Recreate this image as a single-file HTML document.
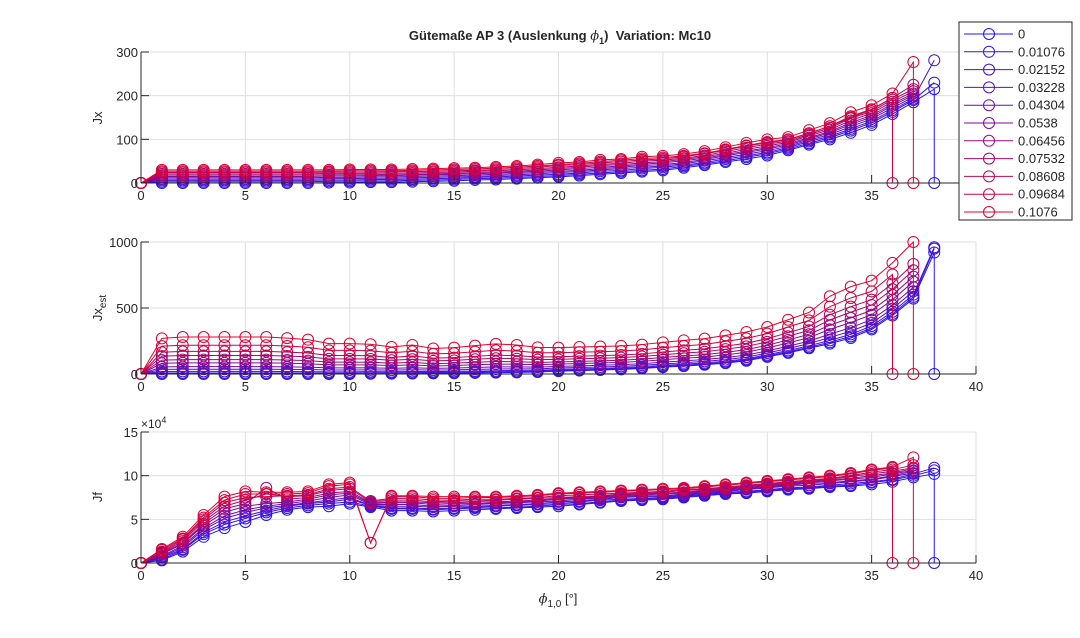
<!DOCTYPE html>
<html><head><meta charset="utf-8"><style>
body{margin:0;background:#fff;}
svg text{font-family:"Liberation Sans",sans-serif;fill:#262626;}
</style></head><body>
<svg id="chart" width="1080" height="633" viewBox="0 0 1080 633" xmlns="http://www.w3.org/2000/svg">
<rect width="1080" height="633" fill="#fff"/>
<g id="plots"></g>
<text x="560" y="40" text-anchor="middle" font-size="13" font-weight="bold">Gütemaße AP 3 (Auslenkung <tspan font-style="italic" font-weight="normal" font-family="DejaVu Serif">ϕ</tspan><tspan font-size="9" dy="4">1</tspan><tspan dy="-4">)&#160;&#160;Variation: Mc10</tspan></text>
<text transform="translate(102,118) rotate(-90)" text-anchor="middle" font-size="13">Jx</text>
<text transform="translate(102,308) rotate(-90)" text-anchor="middle" font-size="13">Jx<tspan font-size="10" dy="4">est</tspan></text>
<text transform="translate(102,497) rotate(-90)" text-anchor="middle" font-size="13">Jf</text>
<text x="141" y="428" font-size="12">×10<tspan font-size="9" dy="-5">4</tspan></text>
<text x="558" y="603" text-anchor="middle" font-size="13"><tspan font-style="italic" font-family="DejaVu Serif">ϕ</tspan><tspan font-size="10" dy="4">1,0</tspan><tspan dy="-4"> [°]</tspan></text>
<g id="legend"></g>
</svg>
<script>
const legendLabels=["0","0.01076","0.02152","0.03228","0.04304","0.0538","0.06456","0.07532","0.08608","0.09684","0.1076"];
const xTicks=[0,5,10,15,20,25,30,35,40];
const jxTicks=[0,100,200,300];
const jxestTicks=[0,500,1000];
const jfTicks=[0,5,10,15];
const dropFlags=[true,false,false,false,false,false,false,false,false,true,true];
const jx=[
[0,0,0,0,0,0,0,0,0,1,1,2,2,3,4,5,7,8,10,12,14,17,20,23,26,29,35,41,48,55,63,75,88,100,115,133,158,185,215],
[0,3,3,3,3,3,3,3,3,4,4,5,5,6,7,8,10,11,13,15,17,20,23,26,29,32,38,44,51,59,67,78,91,104,120,138,163,190,230],
[0,6,6,6,6,6,6,6,6,7,7,8,8,9,10,11,13,14,16,18,20,23,27,29,33,36,41,47,55,62,70,81,95,107,124,142,167,193,281],
[0,9,9,9,9,9,9,9,9,10,10,11,11,12,13,14,15,17,19,21,24,26,30,33,36,39,44,51,58,66,74,84,98,111,129,147,172,197],
[0,12,12,12,12,12,12,12,12,13,13,14,14,15,16,17,18,20,22,24,27,29,33,36,40,42,47,54,62,70,78,87,101,115,134,151,177,201],
[0,15,15,15,15,15,15,15,15,16,16,17,17,18,19,20,21,23,25,27,30,33,36,39,43,46,51,57,65,73,81,90,104,118,138,155,181,205],
[0,18,18,18,18,18,18,18,18,19,19,19,20,20,21,22,24,25,27,30,33,36,40,42,46,49,54,60,68,77,85,93,108,122,143,160,186,210],
[0,21,21,21,21,21,21,21,21,22,22,22,23,23,24,25,27,28,30,33,36,39,43,45,50,52,57,63,72,81,89,96,111,126,148,164,191,215],
[0,24,24,24,24,24,24,24,24,25,25,25,26,26,27,28,29,31,33,36,40,42,46,49,53,55,60,67,75,85,92,99,114,130,153,169,195,225],
[0,27,27,27,27,27,27,27,27,27,28,28,28,29,30,31,32,34,36,39,42,45,49,52,56,58,62,68,77,86,94,100,114,130,150,168,195],
[0,30,30,30,30,30,30,30,30,30,31,31,31,32,33,34,35,37,39,42,46,48,53,55,60,62,66,73,82,92,100,105,121,137,162,178,205,277]];
const jxest=[
[0,0,0,0,0,0,0,0,0,0,0,2,3,4,5,6,8,10,12,15,22,26,30,35,42,52,60,70,82,100,130,160,195,230,273,338,443,571,920],
[0,8,8,8,8,8,8,8,8,7,7,9,9,10,11,12,14,17,18,21,27,31,35,40,47,58,66,76,88,107,137,168,203,241,285,349,455,584,950],
[0,19,20,20,20,20,20,19,18,16,16,18,17,19,18,20,22,25,27,28,34,39,42,47,55,65,74,84,97,115,146,178,214,255,300,364,471,601,960],
[0,35,36,36,36,36,36,35,34,30,30,31,29,32,29,31,35,38,39,39,45,49,53,58,66,76,85,96,109,128,159,193,230,277,324,386,495,627],
[0,54,56,56,56,56,56,54,52,46,46,47,43,47,43,45,49,54,54,52,58,62,66,71,78,90,99,110,124,144,175,210,249,302,351,412,523,657],
[0,81,84,84,84,84,84,82,78,69,69,69,64,69,61,64,70,75,74,71,75,80,83,88,96,108,119,129,145,165,198,235,276,338,390,449,563,700],
[0,105,109,109,109,109,109,106,101,90,90,89,82,88,78,82,89,95,93,88,91,96,99,104,113,125,136,147,164,185,218,258,301,370,425,482,599,738],
[0,135,140,140,140,140,140,136,130,115,115,114,104,112,99,103,112,119,116,109,111,116,119,124,133,146,158,169,188,209,243,286,331,410,468,523,643,786],
[0,165,171,171,171,171,171,166,159,140,140,138,126,136,120,124,134,143,139,129,131,135,139,144,152,167,179,191,211,233,268,313,360,449,510,563,686,833],
[0,211,218,218,218,218,218,212,203,179,179,176,161,172,152,157,169,180,174,161,161,166,169,174,183,199,212,224,247,270,306,356,406,510,576,626,754],
[0,270,280,280,280,280,280,272,260,230,230,225,205,220,193,200,215,228,220,202,200,205,208,213,223,240,255,268,293,318,356,411,466,589,662,707,842,1000]];
const jf=[
[0,0.3,1.3,3.0,4.0,4.7,5.5,6.1,6.4,6.5,6.8,6.4,6.0,6.0,5.9,6.0,6.1,6.2,6.3,6.4,6.5,6.7,6.9,7.1,7.2,7.3,7.5,7.7,7.9,8.0,8.2,8.4,8.5,8.7,8.8,9.0,9.3,9.8,10.2],
[0,0.4,1.5,3.3,4.4,5.1,5.8,6.3,6.6,6.8,7.0,6.5,6.2,6.2,6.1,6.2,6.3,6.3,6.4,6.5,6.7,6.8,7.0,7.2,7.3,7.4,7.6,7.8,8.0,8.1,8.3,8.5,8.6,8.8,8.9,9.2,9.5,10.0,10.6],
[0,0.6,1.6,3.5,4.7,5.4,6.0,6.5,6.8,7.0,7.3,6.6,6.3,6.3,6.2,6.3,6.4,6.5,6.6,6.7,6.8,7.0,7.2,7.3,7.4,7.5,7.7,7.9,8.1,8.2,8.4,8.6,8.7,8.9,9.1,9.3,9.6,10.2,10.9],
[0,0.7,1.8,3.8,5.1,5.8,6.3,6.6,6.9,7.2,7.5,6.6,6.5,6.5,6.4,6.5,6.5,6.6,6.7,6.8,7.0,7.1,7.3,7.5,7.6,7.6,7.8,8.0,8.2,8.4,8.6,8.8,8.9,9.1,9.3,9.5,9.9,10.3],
[0,0.8,2.0,4.0,5.4,6.1,6.5,6.8,7.1,7.5,7.8,6.7,6.7,6.7,6.5,6.6,6.7,6.8,6.9,7.0,7.1,7.3,7.4,7.6,7.7,7.7,7.9,8.1,8.3,8.5,8.7,8.9,9.1,9.2,9.4,9.6,10.0,10.5],
[0,1.0,2.2,4.3,5.8,6.5,6.8,7.0,7.3,7.8,8.0,6.8,6.9,6.9,6.7,6.8,6.8,6.9,7.0,7.1,7.3,7.4,7.5,7.7,7.8,7.9,8.0,8.2,8.4,8.6,8.8,9.0,9.2,9.4,9.6,9.8,10.2,10.6],
[0,1.1,2.3,4.5,6.2,6.8,8.6,7.3,7.5,8.0,8.2,6.9,7.0,7.0,6.9,6.9,7.0,7.0,7.1,7.2,7.4,7.5,7.6,7.8,7.9,8.0,8.1,8.3,8.5,8.7,8.9,9.1,9.3,9.5,9.7,10.0,10.3,10.8],
[0,1.2,2.5,4.8,6.5,7.2,7.9,7.6,7.7,8.3,8.5,7.0,7.2,7.2,7.0,7.1,7.1,7.2,7.3,7.4,7.5,7.6,7.7,7.9,8.0,8.1,8.3,8.4,8.6,8.8,9.0,9.2,9.4,9.6,9.9,10.2,10.5,10.9],
[0,1.3,2.7,5.0,6.9,7.5,7.6,7.7,7.8,8.5,8.7,7.1,7.4,7.4,7.2,7.2,7.3,7.3,7.4,7.5,7.7,7.8,7.9,8.0,8.1,8.2,8.4,8.5,8.7,8.9,9.1,9.3,9.5,9.7,10.0,10.4,10.7,11.2],
[0,1.5,2.8,5.2,7.2,7.9,7.9,7.9,8.0,8.8,9.0,2.3,7.6,7.6,7.4,7.4,7.5,7.5,7.6,7.7,7.9,8.0,8.1,8.2,8.3,8.4,8.5,8.7,8.9,9.1,9.3,9.5,9.7,9.9,10.2,10.6,10.9],
[0,1.6,3.0,5.5,7.6,8.2,8.1,8.1,8.2,9.0,9.2,2.3,7.7,7.7,7.6,7.6,7.6,7.6,7.7,7.8,8.0,8.1,8.2,8.3,8.4,8.5,8.6,8.8,9.0,9.2,9.4,9.6,9.8,10.0,10.3,10.7,11.0,12.1]];

const NS="http://www.w3.org/2000/svg";
const L=141,R=976,XMAX=40;
function xs(v){return L+(R-L)*v/XMAX;}
function col(k){const t=k/10;return `rgb(${Math.round(30+t*200)},${Math.round(20-t*20)},${Math.round(255-t*210)})`;}
function mk(tag,attrs,parent){const e=document.createElementNS(NS,tag);for(const a in attrs)e.setAttribute(a,attrs[a]);parent.appendChild(e);return e;}
const plots=document.getElementById('plots');
function panel(name,top,bot,ymax,yTicks,data,showX40){
  const g=mk('g',{},plots);
  
  
  const ys=v=>bot-(bot-top)*v/ymax;
  xTicks.forEach(t=>{ if(t===0)return; mk('line',{x1:xs(t),x2:xs(t),y1:top,y2:bot,stroke:'#dfdfdf','stroke-width':1},g);});
  yTicks.forEach(t=>{ if(t===0)return; mk('line',{x1:L,x2:R,y1:ys(t),y2:ys(t),stroke:'#dfdfdf','stroke-width':1},g);});
  data.forEach((s,k)=>{
    const sg=mk('g',{},g);
    
    
    const c=col(k);
    let pts=s.map((v,i)=>xs(i)+','+ys(v));
    if(dropFlags[k]) pts.push(xs(s.length-1)+','+ys(0));
    mk('polyline',{points:pts.join(' '),fill:'none',stroke:c,'stroke-width':1},sg);
    s.forEach((v,i)=>mk('circle',{cx:xs(i),cy:ys(v),r:5.5,fill:'none',stroke:c,'stroke-width':1},sg));
    if(dropFlags[k]) mk('circle',{cx:xs(s.length-1),cy:ys(0),r:5.5,fill:'none',stroke:c,'stroke-width':1},sg);
  });
  mk('line',{x1:L,x2:R,y1:bot,y2:bot,stroke:'#262626','stroke-width':1},g);
  mk('line',{x1:L,x2:L,y1:top,y2:bot,stroke:'#262626','stroke-width':1},g);
  xTicks.forEach(t=>{
    mk('line',{x1:xs(t),x2:xs(t),y1:bot,y2:bot-8,stroke:'#262626','stroke-width':1},g);
    if(t===40&&!showX40)return;
    const tx=mk('text',{x:xs(t),y:bot+17,'text-anchor':'middle','font-size':13},g);
    
    
    tx.textContent=t;
  });
  yTicks.forEach(t=>{
    mk('line',{x1:L,x2:L+8,y1:ys(t),y2:ys(t),stroke:'#262626','stroke-width':1},g);
    const tx=mk('text',{x:L-3,y:ys(t)+5,'text-anchor':'end','font-size':13},g);
    
    
    tx.textContent=t;
  });
}
panel('jx',52,183,300,jxTicks,jx,false);
panel('jxest',242,374,1000,jxestTicks,jxest,true);
panel('jf',432,563,15,jfTicks,jf,true);
const lg=document.getElementById('legend');
mk('rect',{x:959,y:22,width:113,height:198,fill:'#fff',stroke:'#262626','stroke-width':1},lg);
legendLabels.forEach((lab,k)=>{
  const y=34+k*17.8;const c=col(k);
  const e=mk('g',{},lg);
  
  
  mk('line',{x1:964,x2:1013,y1:y,y2:y,stroke:c,'stroke-width':1},e);
  mk('circle',{cx:989,cy:y,r:5.5,fill:'none',stroke:c,'stroke-width':1},e);
  const t=mk('text',{x:1018,y:y+4.5,'font-size':13},e);
  t.textContent=lab;
});
</script>
</body></html>
